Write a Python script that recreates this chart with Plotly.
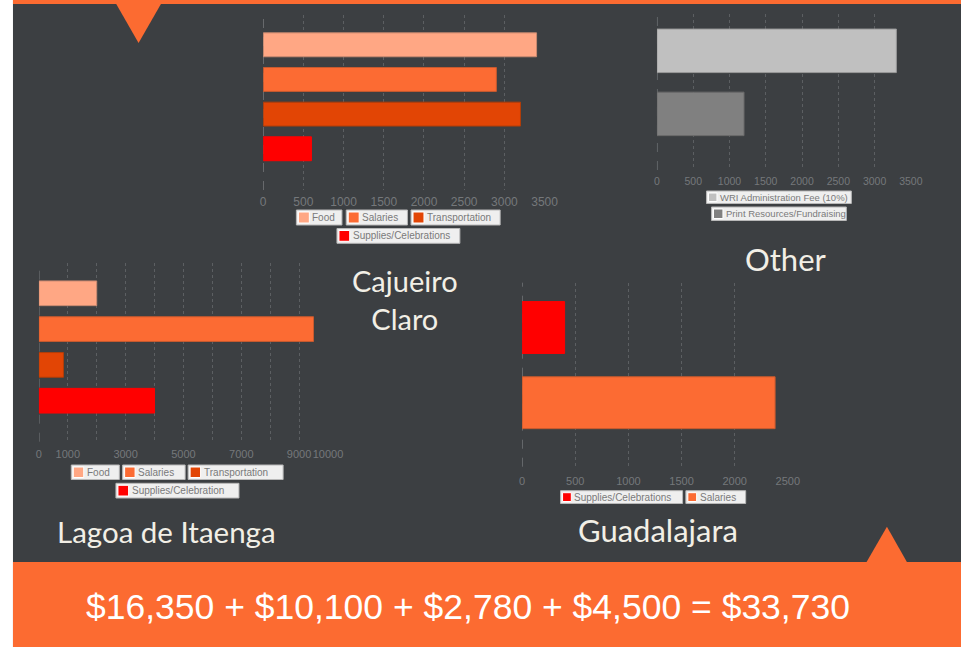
import plotly.graph_objects as go

# design coordinates are those of the 961x649 reference; the viewer shrinks the
# page horizontally by 961/976, so the figure is laid out 976 px wide.
REF_W, H = 961, 649
FIG_W = 976

# ---------------- data ----------------
caj_categories = ["Food", "Salaries", "Transportation", "Supplies/Celebrations"]
caj_values = [3400, 2900, 3200, 600]

other_categories = ["WRI Administration Fee (10%)", "Print Resources/Fundraising"]
other_values = [3300, 1200]

lagoa_categories = ["Food", "Salaries", "Transportation", "Supplies/Celebration"]
lagoa_values = [2000, 9500, 850, 4000]

guad_categories = ["Supplies/Celebrations", "Salaries"]
guad_values = [400, 2380]

caj_tickvals = [0, 500, 1000, 1500, 2000, 2500, 3000, 3500]
other_tickvals = [0, 500, 1000, 1500, 2000, 2500, 3000, 3500]
guad_tickvals = [0, 500, 1000, 1500, 2000, 2500]
lagoa_tickvals = [0, 1000, 2000, 3000, 4000, 5000, 6000, 7000, 8000, 9000, 10000]
lagoa_ticktext = ["0", "1000", "", "3000", "", "5000", "", "7000", "", "9000", "10000"]

titles = ["Cajueiro<br>Claro", "Other", "Lagoa de Itaenga", "Guadalajara"]
totals = [16350, 10100, 2780, 4500]

# ---------------- styles ----------------
C_FOOD = "#FFA784"
C_SAL = "#FC6B33"
C_TRANS = "#E24505"
C_SUP = "#FF0000"
C_WRI = "#C0C0C0"
C_PRINT = "#808080"
L_FOOD = "#c98a70"
L_SAL = "#c85a2e"
L_TRANS = "#b03d0a"
L_SUP = "#FF0000"
L_WRI = "#9a9a9a"
L_PRINT = "#6a6a6a"

BG = "#3C3F42"
ORANGE = "#FC6B31"
GRID = "#5c5f62"
TICK = "#75787b"
TITLE = "#F2EFE6"


def px(x):
    return x / REF_W


def py(y):
    return 1 - y / H


fig = go.Figure()
shapes = []
annotations = []

panels = [
    dict(ax="", cats=caj_categories, vals=caj_values,
         colors=[C_FOOD, C_SAL, C_TRANS, C_SUP], lines=[L_FOOD, L_SAL, L_TRANS, L_SUP],
         xd=(261, 543.3), yd=(15, 190), yr=(4.19, -0.86), xr=(0, 3500),
         tv=caj_tickvals, tt=[str(v) for v in caj_tickvals], fs=12, so=3),
    dict(ax="2", cats=other_categories, vals=other_values,
         colors=[C_WRI, C_PRINT], lines=[L_WRI, L_PRINT],
         xd=(656, 910.7), yd=(14, 170), yr=(1.89, -0.584), xr=(0, 3500),
         tv=other_tickvals, tt=[str(v) for v in other_tickvals], fs=10.5, so=3),
    dict(ax="3", cats=lagoa_categories, vals=lagoa_values,
         colors=[C_FOOD, C_SAL, C_TRANS, C_SUP], lines=[L_FOOD, L_SAL, L_TRANS, L_SUP],
         xd=(36, 326), yd=(263.3, 441.7), yr=(4.145, -0.838), xr=(0, 10000),
         tv=lagoa_tickvals, tt=lagoa_ticktext, fs=11, so=4),
    dict(ax="4", cats=guad_categories, vals=guad_values,
         colors=[C_SUP, C_SAL], lines=[L_SUP, L_SAL],
         xd=(520.7, 787.3), yd=(282.7, 466.7), yr=(1.851, -0.596), xr=(0, 2500),
         tv=guad_tickvals, tt=[str(v) for v in guad_tickvals], fs=11, so=6),
]

# background
shapes.append(dict(type="rect", xref="paper", yref="paper", x0=px(10), x1=1, y0=py(647), y1=1,
                   fillcolor=BG, line_width=0, layer="below"))

for p in panels:
    a = p["ax"]
    fig.add_trace(go.Bar(
        x=p["vals"], y=p["cats"], orientation="h", width=0.69,
        marker=dict(color=p["colors"], line=dict(color=p["lines"], width=1)),
        xaxis="x" + a, yaxis="y" + a, showlegend=False, hoverinfo="x+y",
    ))
    xa = dict(domain=[px(p["xd"][0]), px(p["xd"][1])], range=list(p["xr"]),
              anchor="y" + a, showgrid=True, gridcolor=GRID, griddash="dot", gridwidth=1,
              zeroline=False, showline=False, ticks="", tickangle=0,
              ticklabelstandoff=p["so"],
              tickmode="array", tickvals=p["tv"], ticktext=p["tt"],
              tickfont=dict(family="Liberation Sans, Arial", size=p["fs"], color=TICK),
              fixedrange=True)
    ya = dict(domain=[py(p["yd"][1]), py(p["yd"][0])], range=list(p["yr"]),
              anchor="x" + a, type="category", showgrid=False, zeroline=False,
              showticklabels=False, ticks="", showline=False, fixedrange=True)
    fig.update_layout(**{"xaxis" + a: xa, "yaxis" + a: ya})
    shapes.append(dict(type="line", xref="x" + a, yref="y" + a + " domain",
                       x0=0, x1=0, y0=0, y1=1,
                       line=dict(color="#8a8d90", width=1, dash="dash"), layer="below"))


def legend_item(x0, x1, y0, y1, color, label, fs):
    shapes.append(dict(type="rect", xref="paper", yref="paper",
                       x0=px(x0), x1=px(x1), y0=py(y1), y1=py(y0),
                       fillcolor="#EFEFEF", line=dict(color="#B8B8B8", width=1), layer="above"))
    s = (y1 - y0) - 4
    shapes.append(dict(type="rect", xref="paper", yref="paper",
                       x0=px(x0 + 2), x1=px(x0 + 2 + s), y0=py(y1 - 2), y1=py(y0 + 2),
                       fillcolor=color, line=dict(color="#ffffff", width=1), layer="above"))
    annotations.append(dict(xref="paper", yref="paper", x=px(x0 + 3 + s), y=py((y0 + y1) / 2),
                            xanchor="left", yanchor="middle", showarrow=False, text=label,
                            font=dict(family="Liberation Sans, Arial", size=fs, color="#7a7a7a")))


caj_leg = [(294.3, 340, 210, 225), (344.3, 405.7, 210, 225), (409.3, 498.7, 210, 225),
           (335, 458.3, 228.5, 243.3)]
for (b, c, col) in zip(caj_leg, caj_categories, panels[0]["colors"]):
    legend_item(*b, col, c, 10)

other_leg = [(705.7, 851, 191, 203.5), (710.7, 846, 207, 220.5)]
for (b, c, col) in zip(other_leg, other_categories, panels[1]["colors"]):
    legend_item(*b, col, c, 9.5)

lagoa_leg = [(68.5, 116.7, 465, 479.5), (120, 182.7, 465, 479.5), (185.7, 281, 465, 479.5),
             (113.3, 236.7, 483.3, 498)]
for (b, c, col) in zip(lagoa_leg, lagoa_categories, panels[2]["colors"]):
    legend_item(*b, col, c, 10)

guad_leg = [(559.3, 681.7, 490.7, 503.5), (685, 745, 490.7, 503.5)]
for (b, c, col) in zip(guad_leg, guad_categories, panels[3]["colors"]):
    legend_item(*b, col, c, 10)

# decorations
shapes.append(dict(type="rect", xref="paper", yref="paper", x0=px(10), x1=1, y0=py(4), y1=1,
                   fillcolor=ORANGE, line_width=0, layer="above"))
shapes.append(dict(type="path", xref="paper", yref="paper",
                   path=f"M {px(113)},{py(3)} L {px(159)},{py(3)} L {px(136)},{py(43)} Z",
                   fillcolor=ORANGE, line_width=0, layer="above"))
shapes.append(dict(type="rect", xref="paper", yref="paper", x0=px(10), x1=1, y0=py(647), y1=py(562),
                   fillcolor=ORANGE, line_width=0, layer="above"))
shapes.append(dict(type="path", xref="paper", yref="paper",
                   path=f"M {px(865.7)},{py(563)} L {px(907.3)},{py(563)} L {px(886.7)},{py(526.7)} Z",
                   fillcolor=ORANGE, line_width=0, layer="above"))

# titles
TF = "Lato, Open Sans, sans-serif"
title_pos = [(403.3, 299.5, 29), (785, 259, 31), (164, 531, 29.5), (657, 530, 31)]
for t, (x, y, s) in zip(titles, title_pos):
    annotations.append(dict(xref="paper", yref="paper", x=px(x), y=py(y), xanchor="center",
                            yanchor="middle", showarrow=False, text=t,
                            font=dict(family=TF, size=s, color=TITLE)))

banner = " + ".join(f"${v:,}" for v in totals) + f" = ${sum(totals):,}"
annotations.append(dict(xref="paper", yref="paper", x=px(466.5), y=py(607), xanchor="center",
                        yanchor="middle", showarrow=False, text=banner,
                        font=dict(family="Liberation Sans, Arial", size=35.5, color="#FFFFFF")))

fig.update_layout(width=FIG_W, height=H, margin=dict(l=0, r=0, t=0, b=0), autosize=False,
                  paper_bgcolor="#FFFFFF", plot_bgcolor="rgba(0,0,0,0)",
                  shapes=shapes, annotations=annotations, showlegend=False,
                  bargap=0.3)

grad = (f"linear-gradient(to bottom, {ORANGE} 0px, {ORANGE} 4px, {BG} 4px, {BG} 562px, "
        f"{ORANGE} 562px, {ORANGE} 647px, #ffffff 647px)")
post = ("document.documentElement.style.margin='0';"
        "document.documentElement.style.overflow='hidden';"
        f"document.documentElement.style.background='{grad}';"
        "document.body.style.margin='0';document.body.style.padding='0';"
        "document.body.style.overflow='hidden';"
        f"document.body.style.background='{grad}';"
        "var gd=document.getElementById('{plot_id}');"
        "gd.style.position='fixed';gd.style.left='0px';gd.style.top='0px';")

fig.write_html("out.html", config={"responsive": False, "displayModeBar": False},
               post_script=post)
